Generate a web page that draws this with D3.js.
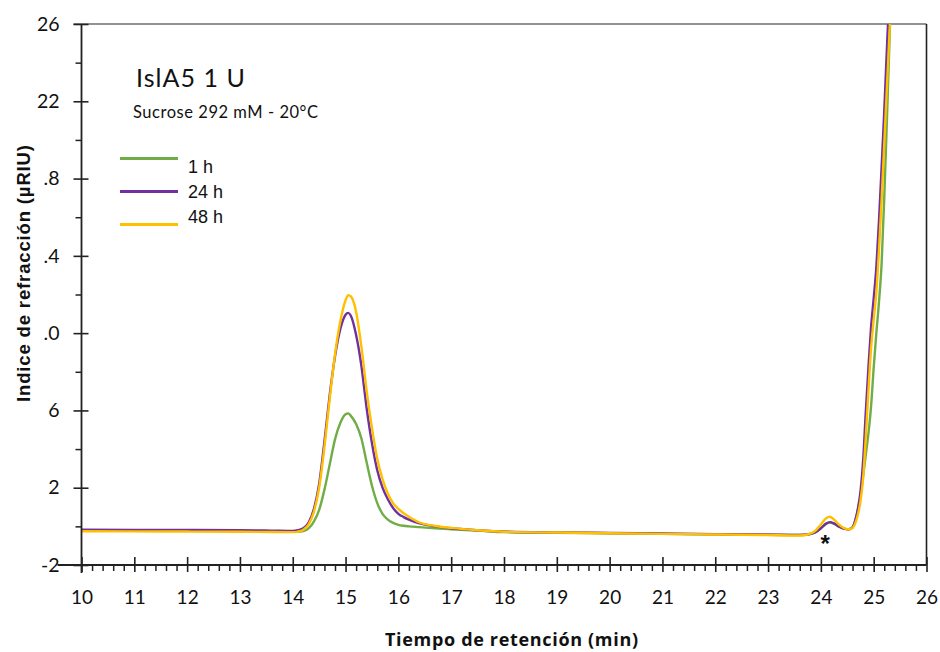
<!DOCTYPE html>
<html>
<head>
<meta charset="utf-8">
<script src="https://cdn.jsdelivr.net/npm/d3@7"></script>
<style>
  html, body { margin: 0; padding: 0; background: #fff; }
  svg { display: block; }
</style>
</head>
<body>
<svg id="chart" width="940" height="652"></svg>
<script>
// Retention time samples (min) shared by all three chromatograms
const times = [10, 11, 12, 13, 13.6, 14.0, 14.1, 14.2, 14.3, 14.4, 14.5, 14.6, 14.7, 14.8, 14.9,
  15.0, 15.05, 15.1, 15.2, 15.3, 15.4, 15.5, 15.6, 15.7, 15.8, 15.9, 16.0, 16.1, 16.2, 16.4, 16.7,
  17.0, 17.5, 18, 19, 20, 21, 22, 23, 23.6, 23.75, 23.9, 24.0, 24.1, 24.17, 24.25, 24.35, 24.45,
  24.52, 24.6, 24.65, 24.7, 24.75, 24.8, 24.85, 24.9, 24.95, 25.0, 25.05, 25.1, 25.15, 25.2, 25.25,
  25.3, 25.35];

// Refractive index signal (µRIU) for each reaction time
const signal1h = [-0.2, -0.21, -0.22, -0.24, -0.26, -0.28, -0.28, -0.25, -0.1, 0.25, 0.85, 1.9, 3.2, 4.5, 5.35,
  5.8, 5.85, 5.72, 5.3, 4.55, 3.3, 2.1, 1.2, 0.65, 0.35, 0.18, 0.08, 0.03, 0.0, -0.04, -0.1,
  -0.15, -0.22, -0.3, -0.33, -0.36, -0.39, -0.42, -0.44, -0.45, -0.42, -0.3, -0.1, 0.13, 0.2, 0.13, -0.03, -0.13,
  -0.15, -0.05, 0.3, 0.85, 1.6, 2.6, 3.7, 4.8, 6.2, 8.2, 10.0, 11.6, 13.6, 17.0, 21.0,
  25.2, 29.5];

const signal24h = [-0.17, -0.18, -0.19, -0.2, -0.22, -0.24, -0.2, -0.1, 0.2, 0.9, 2.2, 4.4, 6.8, 8.8, 10.2,
  10.95, 11.05, 10.9, 9.9, 8.3, 6.1, 4.3, 2.9, 2.0, 1.4, 0.95, 0.65, 0.48, 0.35, 0.15, 0.0,
  -0.1, -0.2, -0.27, -0.31, -0.34, -0.37, -0.4, -0.42, -0.44, -0.42, -0.3, -0.1, 0.15, 0.22, 0.15, -0.02, -0.13,
  -0.15, -0.05, 0.3, 0.9, 1.8, 3.4, 5.9, 8.2, 10.3, 11.8, 13.4, 15.8, 18.6, 21.5, 24.7,
  27.8, 30.5];

const signal48h = [-0.25, -0.26, -0.27, -0.28, -0.29, -0.3, -0.27, -0.17, 0.1, 0.75, 2.0, 4.1, 6.6, 8.9, 10.6,
  11.7, 11.97, 11.9, 11.1, 9.3, 7.0, 5.1, 3.5, 2.45, 1.7, 1.2, 0.9, 0.68, 0.5, 0.2, 0.02,
  -0.08, -0.2, -0.28, -0.32, -0.36, -0.39, -0.42, -0.45, -0.47, -0.42, -0.22, 0.1, 0.42, 0.5, 0.35, 0.08, -0.1,
  -0.15, -0.08, 0.15, 0.6, 1.3, 2.5, 4.6, 7.0, 9.2, 10.7, 12.1, 14.3, 16.9, 19.8, 22.7,
  25.6, 28.5];

const seriesNames = ["1 h", "24 h", "48 h"];
const seriesColors = ["#70AD47", "#7030A0", "#FFC000"];

// Axis ticks and their printed labels
const xTicks = [10, 11, 12, 13, 14, 15, 16, 17, 18, 19, 20, 21, 22, 23, 24, 25, 26];
const yTicks = [-2, 2, 6, 10, 14, 18, 22, 26];
const yTickLabels = ["-2", "2", "6", ".0", ".4", ".8", "22", "26"];
const yMinorTicks = [0, 4, 8, 12, 16, 20, 24];

const chartTitle = "IslA5 1 U";
const chartSubtitle = "Sucrose 292 mM - 20°C";
const xAxisTitle = "Tiempo de retención (min)";
const yAxisTitle = "Indice de refracción (µRIU)";
const markerTime = 24.08;
const markerLabel = "*";

const svg = d3.select("#chart");
const plot = { left: 81.5, right: 926.5, top: 24, bottom: 565 };

const x = d3.scaleLinear().domain([10, 26]).range([plot.left, plot.right]);
const y = d3.scaleLinear().domain([-2, 26]).range([plot.bottom, plot.top]);

svg.append("defs").append("clipPath").attr("id", "plotClip")
  .append("rect")
  .attr("x", plot.left).attr("y", plot.top)
  .attr("width", plot.right - plot.left).attr("height", plot.bottom - plot.top);

// Frame: grey top edge, dark right edge
svg.append("line")
  .attr("x1", plot.left - 8).attr("x2", plot.right)
  .attr("y1", plot.top).attr("y2", plot.top)
  .attr("stroke", "#6e6e6e").attr("stroke-width", 1.6);
svg.append("line")
  .attr("x1", plot.right).attr("x2", plot.right)
  .attr("y1", plot.top).attr("y2", plot.bottom)
  .attr("stroke", "#222").attr("stroke-width", 1.6);

// Chromatogram traces
const line = d3.line()
  .x(d => x(d[0]))
  .y(d => y(d[1]))
  .curve(d3.curveMonotoneX);

const signals = [signal1h, signal24h, signal48h];
const traces = svg.append("g").attr("clip-path", "url(#plotClip)");
signals.forEach((vals, i) => {
  traces.append("path")
    .datum(times.map((t, k) => [t, vals[k]]))
    .attr("fill", "none")
    .attr("stroke", seriesColors[i])
    .attr("stroke-width", 2.4)
    .attr("stroke-linejoin", "round")
    .attr("d", line);
});

// X axis: major ticks crossing the line, minor ticks below it
const xMinor = [];
for (let i = 0; i < xTicks.length - 1; i++) {
  for (let k = 1; k < 5; k++) xMinor.push(xTicks[i] + k * 0.2);
}
const gxMinor = svg.append("g")
  .attr("transform", `translate(0,${plot.bottom})`)
  .call(d3.axisBottom(x).tickValues(xMinor).tickSize(6).tickFormat(""));
gxMinor.select(".domain").remove();
gxMinor.selectAll("line").attr("stroke", "#222").attr("stroke-width", 1.5);

const gx = svg.append("g")
  .attr("transform", `translate(0,${plot.bottom})`)
  .call(d3.axisBottom(x).tickValues(xTicks).tickSizeOuter(0).tickFormat(d3.format("d")));
gx.select(".domain").attr("stroke", "#222").attr("stroke-width", 1.8)
  .attr("d", `M${plot.left - 24},0H${plot.right}`);
gx.selectAll(".tick line").attr("y1", -8).attr("y2", 7).attr("stroke", "#222").attr("stroke-width", 1.6);
gx.selectAll(".tick text")
  .attr("y", 39).attr("dy", null)
  .attr("fill", "#111")
  .style("font-family", "Lato, 'Noto Sans', sans-serif")
  .style("font-size", "19px");

// Y axis: major ticks crossing the line, minor ticks outside
const gyMinor = svg.append("g")
  .attr("transform", `translate(${plot.left},0)`)
  .call(d3.axisLeft(y).tickValues(yMinorTicks).tickSize(6).tickFormat(""));
gyMinor.select(".domain").remove();
gyMinor.selectAll("line").attr("stroke", "#222").attr("stroke-width", 1.5);

const gy = svg.append("g")
  .attr("transform", `translate(${plot.left},0)`)
  .call(d3.axisLeft(y).tickValues(yTicks).tickSizeOuter(0)
    .tickFormat((d, i) => yTickLabels[i]));
gy.select(".domain").attr("stroke", "#222").attr("stroke-width", 1.8)
  .attr("d", `M0,${plot.top}V${plot.bottom + 8}`);
gy.selectAll(".tick line").attr("x1", -8).attr("x2", 7).attr("stroke", "#222").attr("stroke-width", 1.6);
gy.selectAll(".tick text")
  .attr("x", -22)
  .attr("fill", "#111")
  .style("font-family", "Lato, 'Noto Sans', sans-serif")
  .style("font-size", "19.5px");

// Axis titles
svg.append("text")
  .attr("x", 511.5).attr("y", 646)
  .attr("text-anchor", "middle")
  .attr("textLength", 253)
  .attr("lengthAdjust", "spacing")
  .style("font-family", "'Open Sans', sans-serif")
  .style("font-weight", 700)
  .style("font-size", "18px")
  .attr("fill", "#111")
  .text(xAxisTitle);

svg.append("text")
  .attr("transform", `translate(30,273.5) rotate(-90)`)
  .attr("text-anchor", "middle")
  .attr("textLength", 257)
  .attr("lengthAdjust", "spacing")
  .style("font-family", "'Liberation Sans', Arial, sans-serif")
  .style("font-weight", 700)
  .style("font-size", "18.5px")
  .attr("fill", "#111")
  .text(yAxisTitle);

// Title block
svg.append("text")
  .attr("x", 136).attr("y", 87)
  .attr("textLength", 109)
  .attr("lengthAdjust", "spacing")
  .style("font-family", "Lato, 'Noto Sans', sans-serif")
  .style("font-size", "25px")
  .attr("fill", "#111")
  .text(chartTitle);

svg.append("text")
  .attr("x", 133).attr("y", 118)
  .attr("textLength", 185)
  .attr("lengthAdjust", "spacing")
  .style("font-family", "Lato, 'Noto Sans', sans-serif")
  .style("font-size", "16.5px")
  .attr("fill", "#111")
  .text(chartSubtitle);

// Legend
const legendLineY = [158.5, 191.5, 224.5];
const legendTextY = [172.5, 198, 223];
const legend = svg.append("g");
seriesNames.forEach((name, i) => {
  legend.append("line")
    .attr("x1", 120).attr("x2", 178)
    .attr("y1", legendLineY[i]).attr("y2", legendLineY[i])
    .attr("stroke", seriesColors[i]).attr("stroke-width", 3);
  legend.append("text")
    .attr("x", 188).attr("y", legendTextY[i])
    .style("font-family", "'Liberation Sans', Arial, sans-serif")
    .style("font-size", "18px")
    .attr("fill", "#111")
    .text(name);
});

// Marker under the small peak near 24 min
svg.append("text")
  .attr("x", x(markerTime)).attr("y", 552)
  .attr("text-anchor", "middle")
  .style("font-family", "'Liberation Sans', Arial, sans-serif")
  .style("font-weight", 700)
  .style("font-size", "24px")
  .attr("fill", "#111")
  .text(markerLabel);
</script>
</body>
</html>
